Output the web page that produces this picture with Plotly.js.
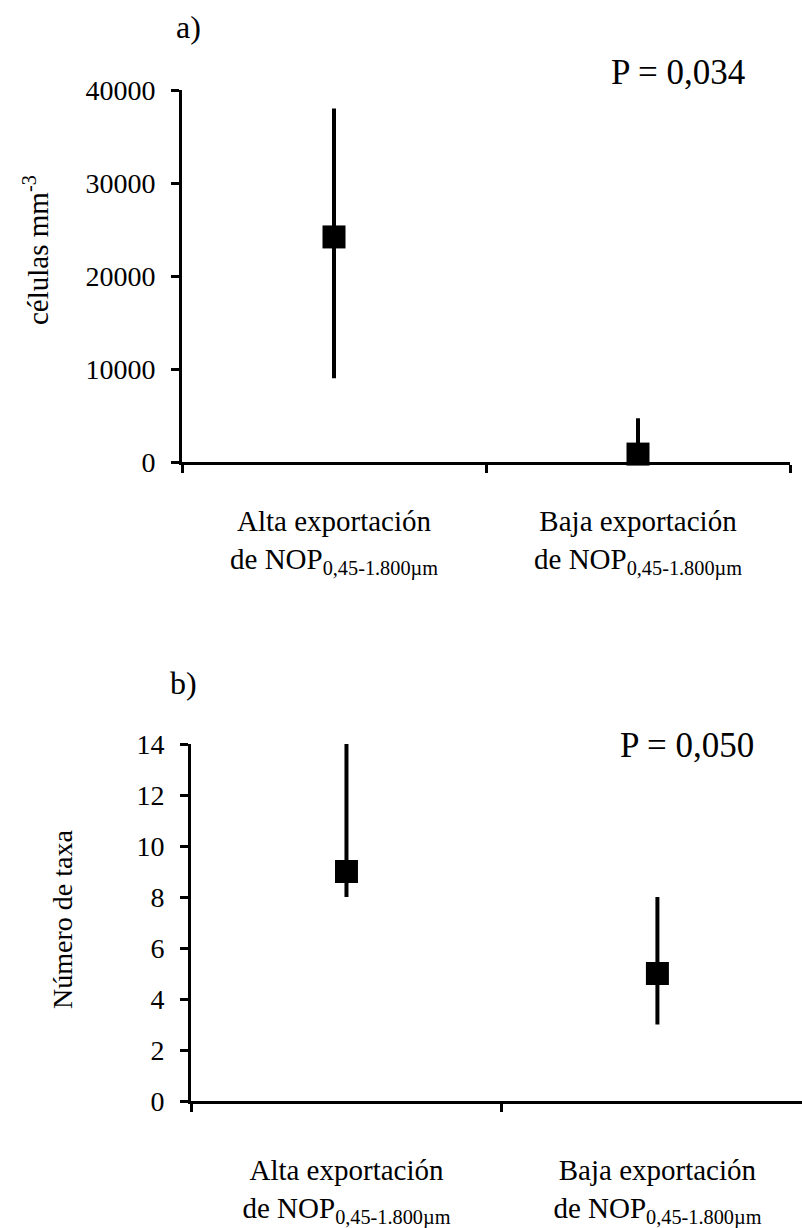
<!DOCTYPE html>
<html>
<head>
<meta charset="utf-8">
<script src="https://cdn.plot.ly/plotly-3.0.1.min.js"></script>
<style>
  html, body { margin: 0; padding: 0; background: #fff; }
  #chart { width: 802px; height: 1228px; }
</style>
</head>
<body>
<div id="chart"></div>
<script>
// Group labels shared by both panels
const categories = [
  'Alta exportación<br>de NOP<sub>0,45-1.800µm</sub>',
  'Baja exportación<br>de NOP<sub>0,45-1.800µm</sub>'
];

// Panel a) cell density (células mm-3): central value and range
const cellsMean  = [24200, 850];
const cellsUpper = [38000, 4700];
const cellsLower = [9000, 0];

// Panel b) number of taxa: central value and range
const taxaMean  = [9, 5];
const taxaUpper = [14, 8];
const taxaLower = [8, 3];

const pLabels = ['P = 0,034', 'P = 0,050'];
const yTitles = ['células mm<sup>-3</sup>', 'Número de taxa'];
const panelTags = ['a)', 'b)'];

const FONT = 'Liberation Serif';

function errorBars(mean, upper, lower) {
  return {
    type: 'data',
    symmetric: false,
    array: upper.map((u, i) => u - mean[i]),
    arrayminus: lower.map((l, i) => mean[i] - l),
    color: '#000',
    thickness: 4,
    width: 0
  };
}

const markerStyle = { symbol: 'square', size: 23, color: '#000' };

const traces = [
  {
    type: 'scatter', mode: 'markers',
    x: categories, y: cellsMean,
    error_y: errorBars(cellsMean, cellsUpper, cellsLower),
    marker: markerStyle, cliponaxis: false,
    xaxis: 'x', yaxis: 'y', hoverinfo: 'y'
  },
  {
    type: 'scatter', mode: 'markers',
    x: categories, y: taxaMean,
    error_y: errorBars(taxaMean, taxaUpper, taxaLower),
    marker: markerStyle, cliponaxis: false,
    xaxis: 'x2', yaxis: 'y2', hoverinfo: 'y'
  }
];

const xCommon = {
  type: 'category',
  tickson: 'boundaries',
  ticks: 'outside', ticklen: 8, tickwidth: 3, tickcolor: '#000',
  showline: true, linewidth: 3, linecolor: '#000',
  showgrid: false, zeroline: false,
  tickfont: { family: FONT, size: 29, color: 'black' },
  fixedrange: true
};

const yCommon = {
  ticks: 'outside', ticklen: 8, tickwidth: 3, tickcolor: '#000',
  showline: true, linewidth: 3, linecolor: '#000',
  showgrid: false, zeroline: false,
  tickfont: { family: FONT, size: 28, color: 'black' },
  ticklabelstandoff: 10,
  fixedrange: true
};

const H = 1228, W = 802;
const px = v => v / W;
const py = v => 1 - v / H;

function label(text, x, y, size, angle) {
  return {
    text: text, x: px(x), y: py(y), xref: 'paper', yref: 'paper',
    xanchor: 'center', yanchor: 'middle', showarrow: false,
    textangle: angle || 0,
    font: { family: FONT, size: size, color: 'black' }
  };
}

const layout = {
  width: W, height: H,
  margin: { l: 0, r: 0, t: 0, b: 0 },
  paper_bgcolor: '#fff', plot_bgcolor: '#fff',
  showlegend: false,
  xaxis: Object.assign({}, xCommon, {
    domain: [px(182), px(790)], range: [-0.5, 1.5], anchor: 'y',
    ticklabelstandoff: 31
  }),
  yaxis: Object.assign({}, yCommon, {
    domain: [py(462), py(90)], range: [0, 40000], dtick: 10000,
    tickformat: 'd', anchor: 'x'
  }),
  xaxis2: Object.assign({}, xCommon, {
    domain: [px(191), 1], range: [-0.5, 1.465], anchor: 'y2',
    ticklabelstandoff: 41
  }),
  yaxis2: Object.assign({}, yCommon, {
    domain: [py(1101), py(744)], range: [0, 14], dtick: 2, anchor: 'x2'
  }),
  annotations: [
    label(panelTags[0], 188, 27, 32),
    label(panelTags[1], 183, 683, 32),
    label(pLabels[0], 678, 72, 35),
    label(pLabels[1], 687, 745, 35),
    label(yTitles[0], 36, 250, 29, -90),
    label(yTitles[1], 62, 920, 28, -90)
  ]
};

Plotly.newPlot('chart', traces, layout, { displayModeBar: false });
</script>
</body>
</html>
